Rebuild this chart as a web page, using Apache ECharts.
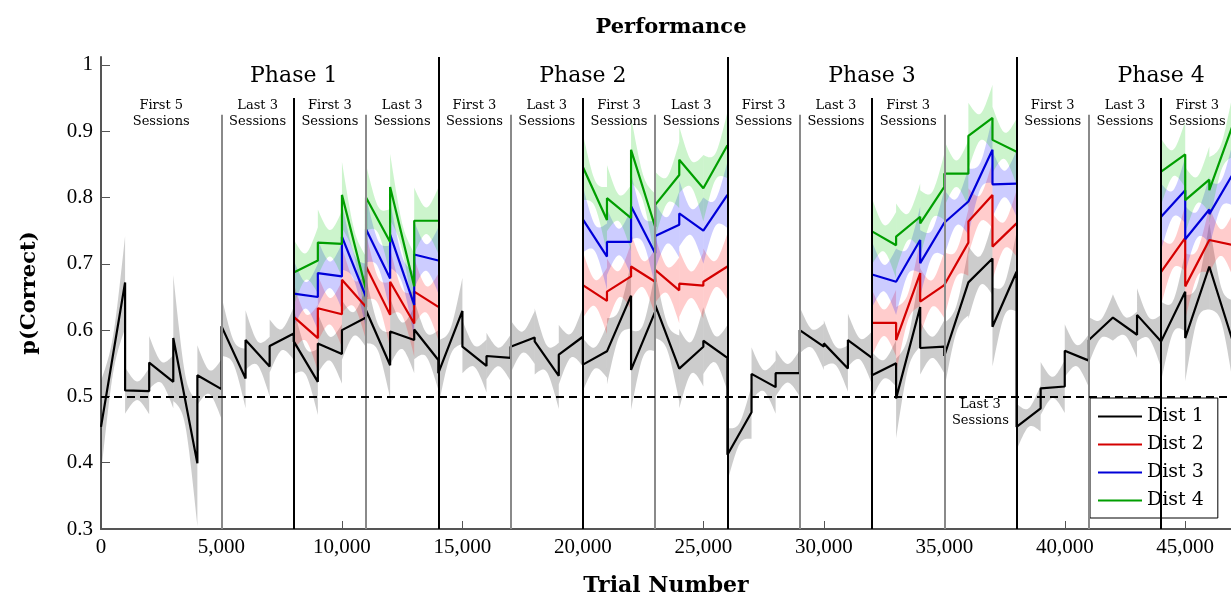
<!DOCTYPE html>
<html>
<head>
<meta charset="utf-8">
<script src="https://cdn.jsdelivr.net/npm/echarts@6/dist/echarts.min.js"></script>
<style>
html, body { margin: 0; padding: 0; background: #fff; }
#main { width: 1231px; height: 597px; }
</style>
</head>
<body>
<div id="main"></div>
<script>
// one session = 1000 trials, values are start / end of each session fit
var sessionLen = 1000;

// Dist 1 is shown for every session 0..46
var dist1Start = [0.454, 0.509, 0.551, 0.588, 0.532, 0.606, 0.585, 0.576, 0.583, 0.580,
                  0.600, 0.630, 0.598, 0.601, 0.535, 0.575, 0.561, 0.575, 0.583, 0.563,
                  0.548, 0.568, 0.540, 0.638, 0.542, 0.584, 0.412, 0.534, 0.535, 0.600,
                  0.580, 0.585, 0.532, 0.497, 0.573, 0.561, 0.672, 0.605, 0.454, 0.512,
                  0.569, 0.585, 0.619, 0.623, 0.583, 0.588, 0.696];
var dist1End   = [0.672, 0.508, 0.522, 0.399, 0.511, 0.527, 0.545, 0.595, 0.522, 0.564,
                  0.619, 0.547, 0.585, 0.555, 0.629, 0.546, 0.558, 0.589, 0.531, 0.590,
                  0.568, 0.652, 0.628, 0.542, 0.575, 0.558, 0.476, 0.514, 0.535, 0.575,
                  0.542, 0.558, 0.550, 0.635, 0.575, 0.672, 0.708, 0.688, 0.482, 0.515,
                  0.554, 0.619, 0.593, 0.583, 0.658, 0.696, 0.580];
var dist1Err   = [0.07, 0.035, 0.04, 0.095, 0.045, 0.045, 0.045, 0.04, 0.05, 0.045,
                  0.045, 0.05, 0.05, 0.045, 0.05, 0.04, 0.035, 0.04, 0.05, 0.045,
                  0.04, 0.05, 0.06, 0.05, 0.06, 0.05, 0.04, 0.04, 0.035, 0.035,
                  0.035, 0.04, 0.035, 0.06, 0.04, 0.05, 0.055, 0.06, 0.035, 0.04,
                  0.04, 0.035, 0.035, 0.04, 0.06, 0.065, 0.065];

// Dist 2-4 only exist in the "First 3 / Last 3" sessions of each phase end
var colourSessions = [8, 9, 10, 11, 12, 13, 20, 21, 22, 23, 24, 25, 32, 33, 34, 35, 36, 37, 44, 45, 46];
var dist2Start = [0.620, 0.633, 0.676, 0.696, 0.673, 0.658, 0.668, 0.658, 0.696, 0.691, 0.670, 0.673,
                  0.611, 0.585, 0.643, 0.668, 0.764, 0.726, 0.688, 0.666, 0.736];
var dist2End   = [0.588, 0.624, 0.635, 0.623, 0.610, 0.635, 0.644, 0.681, 0.673, 0.660, 0.667, 0.696,
                  0.611, 0.686, 0.668, 0.732, 0.804, 0.761, 0.739, 0.736, 0.728];
var dist3Start = [0.655, 0.686, 0.741, 0.752, 0.744, 0.714, 0.767, 0.733, 0.787, 0.742, 0.776, 0.750,
                  0.684, 0.673, 0.701, 0.762, 0.794, 0.820, 0.771, 0.737, 0.775];
var dist3End   = [0.650, 0.681, 0.650, 0.678, 0.638, 0.705, 0.711, 0.733, 0.716, 0.759, 0.750, 0.804,
                  0.673, 0.736, 0.762, 0.794, 0.872, 0.821, 0.811, 0.782, 0.837];
var dist4Start = [0.687, 0.732, 0.804, 0.800, 0.816, 0.765, 0.846, 0.799, 0.872, 0.789, 0.857, 0.814,
                  0.749, 0.741, 0.761, 0.836, 0.893, 0.887, 0.839, 0.796, 0.811];
var dist4End   = [0.705, 0.730, 0.661, 0.733, 0.666, 0.765, 0.766, 0.769, 0.756, 0.834, 0.814, 0.879,
                  0.728, 0.771, 0.816, 0.836, 0.920, 0.869, 0.865, 0.827, 0.912];
var colourErr = 0.05;

var seriesNames = ['Dist 1', 'Dist 2', 'Dist 3', 'Dist 4'];
var lineColors = ['#000000', '#d40000', '#0000d8', '#009e00'];
var bandColors = ['rgba(0,0,0,0.2)', 'rgba(255,0,0,0.2)', 'rgba(0,0,255,0.2)', 'rgba(0,200,0,0.2)'];

var xTicks = [0, 5000, 10000, 15000, 20000, 25000, 30000, 35000, 40000, 45000];
var yTicks = [0.3, 0.4, 0.5, 0.6, 0.7, 0.8, 0.9, 1];

var phaseNames = ['Phase 1', 'Phase 2', 'Phase 3', 'Phase 4'];
var phaseX = [8000, 20000, 32000, 44000];
var blockNames = ['First 5', 'Last 3', 'First 3', 'Last 3', 'First 3', 'Last 3', 'First 3', 'Last 3',
                  'First 3', 'Last 3', 'First 3', 'Last 3', 'First 3', 'Last 3', 'First 3'];
var blockX = [2500, 6500, 9500, 12500, 15500, 18500, 21500, 24500, 27500, 30500, 33500, 36500, 39500, 42500, 45500];
var blockY = [0.926, 0.926, 0.926, 0.926, 0.926, 0.926, 0.926, 0.926, 0.926, 0.926, 0.926, 0.475, 0.926, 0.926, 0.926];

var minorBounds = [5000, 11000, 17000, 23000, 29000, 35000, 41000];
var midBounds = [8000, 20000, 32000, 44000];
var phaseBounds = [14000, 26000, 38000];

var serif = '"DejaVu Serif", serif';

function allSessions() {
  var a = [];
  for (var i = 0; i < dist1Start.length; i++) a.push(i);
  return a;
}

function lineData(idx, st, en) {
  var out = [];
  for (var k = 0; k < idx.length; k++) {
    var x0 = idx[k] * sessionLen;
    if (k > 0 && idx[k - 1] !== idx[k] - 1) out.push([x0, null]);
    out.push([x0, st[k]], [x0 + sessionLen, en[k]]);
  }
  return out;
}

function bandData(idx, st, en, err) {
  return idx.map(function (s, k) {
    return [s * sessionLen, (s + 1) * sessionLen, st[k], en[k], Array.isArray(err) ? err[k] : err];
  });
}

function bandItem(fill) {
  return function (params, api) {
    var x0 = api.value(0), x1 = api.value(1), s = api.value(2), e = api.value(3), w = api.value(4);
    var c = 0.4 * w, up = [], lo = [];
    for (var j = 0; j <= 24; j++) {
      var t = j / 24, u = 2 * t - 1;
      var x = x0 + (x1 - x0) * t, y = s + (e - s) * t;
      var h = Math.sqrt(c * c + (w * w - c * c) * u * u);
      up.push(api.coord([x, y + h]));
      lo.unshift(api.coord([x, y - h]));
    }
    return { type: 'polygon', shape: { points: up.concat(lo) }, style: { fill: fill } };
  };
}

var all = allSessions();
var groups = [
  [all, dist1Start, dist1End, dist1Err],
  [colourSessions, dist2Start, dist2End, colourErr],
  [colourSessions, dist3Start, dist3End, colourErr],
  [colourSessions, dist4Start, dist4End, colourErr]
];

var vLines = [];
minorBounds.forEach(function (x) {
  vLines.push([{ coord: [x, 0.3], lineStyle: { color: '#8a8a8a', width: 2, type: 'solid' } }, { coord: [x, 0.925] }]);
});
midBounds.forEach(function (x) {
  vLines.push([{ coord: [x, 0.3], lineStyle: { color: '#000', width: 2, type: 'solid' } }, { coord: [x, 0.95] }]);
});
phaseBounds.forEach(function (x) {
  vLines.push([{ coord: [x, 0.3], lineStyle: { color: '#000', width: 2, type: 'solid' } }, { coord: [x, 1.012] }]);
});
vLines.push({ yAxis: 0.5, lineStyle: { color: '#000', width: 2, type: [8, 5] } });

var series = [];
groups.forEach(function (g, i) {
  series.push({
    name: 'band' + i,
    type: 'custom',
    z: 1,
    clip: true,
    silent: true,
    encode: { x: [0, 1], y: [2, 3] },
    data: bandData(g[0], g[1], g[2], g[3]),
    renderItem: bandItem(bandColors[i])
  });
});
groups.forEach(function (g, i) {
  var s = {
    name: seriesNames[i],
    type: 'line',
    z: 3,
    symbol: 'none',
    clip: true,
    connectNulls: false,
    lineStyle: { color: lineColors[i], width: 2.2 },
    itemStyle: { color: lineColors[i] },
    data: lineData(g[0], g[1], g[2])
  };
  if (i === 0) {
    s.markLine = { silent: true, symbol: 'none', label: { show: false }, z: 4, data: vLines };
  }
  series.push(s);
});

// phase + block labels placed in data coordinates
series.push({
  name: 'labels',
  type: 'custom',
  z: 5,
  silent: true,
  clip: false,
  data: phaseX.map(function (x) { return [x, 0.983]; }).concat(blockX.map(function (x, i) { return [x, blockY[i]]; })),
  renderItem: function (params, api) {
    var p = api.coord([api.value(0), api.value(1)]);
    var i = params.dataIndex;
    var isPhase = i < phaseNames.length;
    var txt = isPhase ? phaseNames[i] : blockNames[i - phaseNames.length] + '\nSessions';
    return {
      type: 'text',
      x: p[0], y: p[1],
      style: {
        text: txt,
        fill: '#000',
        font: (isPhase ? '22px ' : '13px ') + serif,
        align: 'center',
        verticalAlign: 'middle',
        lineHeight: isPhase ? 24 : 16
      }
    };
  }
});

var chart = echarts.init(document.getElementById('main'), null, { renderer: 'canvas' });
chart.setOption({
  animation: false,
  backgroundColor: '#fff',
  title: {
    text: 'Performance',
    left: 666,
    textAlign: 'center',
    top: 12,
    textStyle: { fontFamily: serif, fontWeight: 'bold', fontSize: 21, color: '#000' }
  },
  legend: {
    data: seriesNames,
    orient: 'vertical',
    left: 1090,
    top: 398,
    padding: [9, 14, 8, 8],
    itemGap: 9,
    itemWidth: 44,
    itemHeight: 19,
    icon: 'path://M0,8.5 L44,8.5 L44,10.5 L0,10.5 Z',
    backgroundColor: '#fff',
    borderColor: '#000',
    borderWidth: 1,
    borderRadius: 0,
    textStyle: { fontFamily: serif, fontSize: 19, color: '#000' }
  },
  grid: { left: 101, right: 0, top: 57, bottom: 68, containLabel: false, outerBoundsMode: 'none' },
  xAxis: {
    type: 'value',
    min: 0,
    max: 46900,
    name: 'Trial Number',
    nameLocation: 'middle',
    nameGap: 46,
    nameTextStyle: { fontFamily: serif, fontWeight: 'bold', fontSize: 22, color: '#000' },
    axisLine: { show: true, lineStyle: { color: '#555', width: 2 } },
    axisTick: { show: true, inside: true, length: 8, customValues: xTicks, lineStyle: { color: '#555', width: 1 } },
    axisLabel: {
      customValues: xTicks,
      margin: 8,
      fontFamily: '"Liberation Serif", serif',
      fontSize: 21,
      color: '#000',
      formatter: function (v) { return String(v).replace(/\B(?=(\d{3})+(?!\d))/g, ','); }
    },
    splitLine: { show: false }
  },
  yAxis: {
    type: 'value',
    min: 0.3,
    max: 1.012,
    name: 'p(Correct)',
    nameLocation: 'middle',
    nameGap: 61,
    nameTextStyle: { fontFamily: serif, fontWeight: 'bold', fontSize: 21, color: '#000' },
    axisLine: { show: true, lineStyle: { color: '#555', width: 2 } },
    axisTick: { show: true, inside: true, length: 9, customValues: yTicks, lineStyle: { color: '#555', width: 1 } },
    axisLabel: {
      customValues: yTicks,
      margin: 8,
      fontFamily: '"Liberation Serif", serif',
      fontSize: 21,
      color: '#000',
      formatter: function (v) { return v === 1 ? '1' : v.toFixed(1); }
    },
    splitLine: { show: false }
  },
  series: series
});
</script>
</body>
</html>
